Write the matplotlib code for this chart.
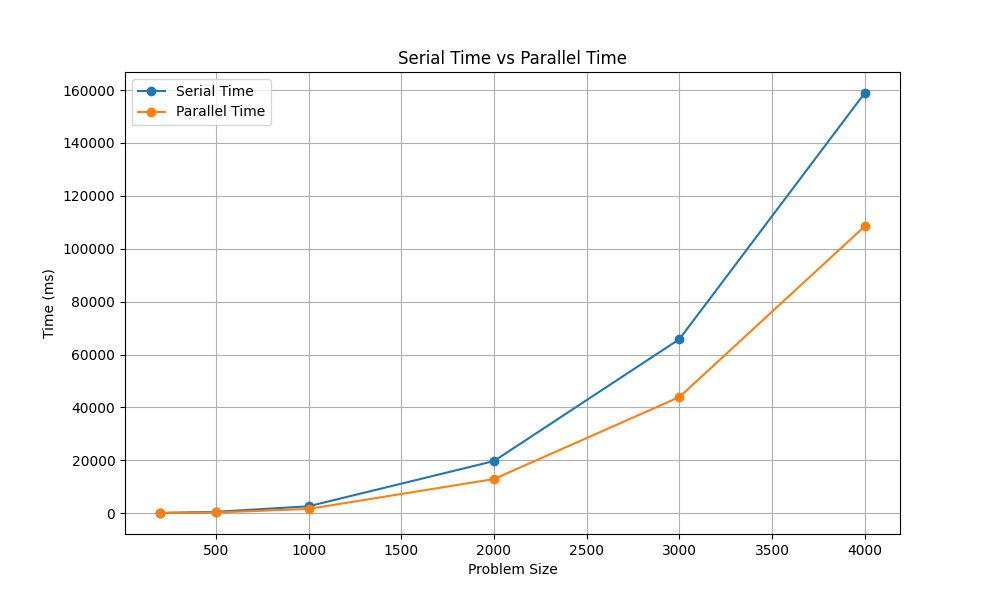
import matplotlib
matplotlib.use("Agg")
import matplotlib.pyplot as plt

problem_sizes = [200, 500, 1000, 2000, 3000, 4000]
serial_time = [80, 500, 2600, 19700, 65800, 158900]
parallel_time = [60, 250, 1600, 12900, 43900, 108500]

fig, ax = plt.subplots(figsize=(10, 6), dpi=100)
ax.plot(problem_sizes, serial_time, marker='o', label='Serial Time')
ax.plot(problem_sizes, parallel_time, marker='o', label='Parallel Time')
ax.set_xlabel('Problem Size')
ax.set_ylabel('Time (ms)')
ax.set_title('Serial Time vs Parallel Time')
ax.legend(loc='upper left')
ax.grid(True)
fig.savefig('out.png')
